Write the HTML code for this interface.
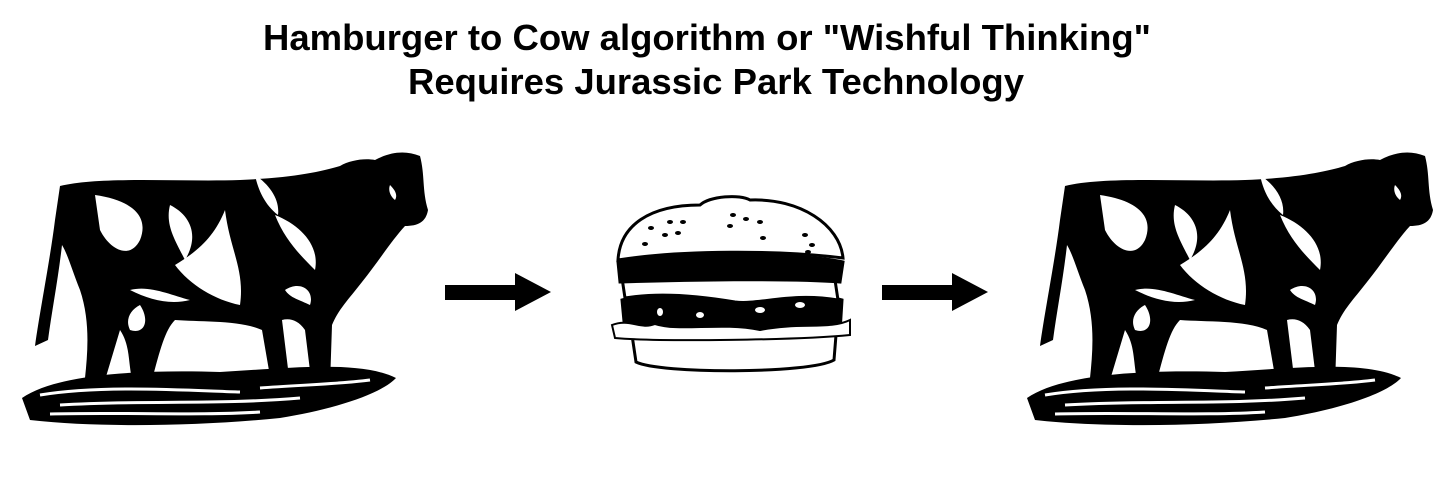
<!DOCTYPE html>
<html><head><style>
html,body{margin:0;padding:0;background:#fff;}
body{width:1447px;height:496px;position:relative;overflow:hidden;}
.t{position:absolute;left:0;width:1420px;text-align:center;font-family:"Liberation Sans",Arial,sans-serif;font-weight:bold;font-size:36.5px;color:#000;}
</style></head><body>
<div class="t" style="top:17px;left:-3px;">Hamburger to Cow algorithm or "Wishful Thinking"</div>
<div class="t" style="top:61px;left:6px;">Requires Jurassic Park Technology</div>
<svg width="1447" height="496" style="position:absolute;left:0;top:0">
<defs>
<g id="cow">
  <path d="M22,398 C60,372 150,370 220,372 C290,368 360,360 396,378 C380,395 330,410 280,418 C200,426 100,428 30,420 Z" fill="#000"/>
  <path d="M60,186 C100,176 180,182 240,180 C290,178 320,172 340,166 C350,160 365,158 375,160 C390,152 405,150 420,156 C425,175 422,190 428,210 C426,222 418,226 405,226 C392,240 378,262 362,282 C348,300 338,310 332,325 L330,385 L312,387 L305,330 C298,320 290,318 282,320 L290,385 L272,388 L262,330 C240,320 200,322 175,320 C165,330 160,350 152,380 L132,380 C128,360 130,345 120,330 L105,380 L85,378 C88,350 90,320 80,290 C72,270 68,255 62,245 C58,280 52,310 48,340 L35,346 C40,310 50,260 55,220 Z" fill="#000"/>
  <path d="M95,195 C130,200 150,215 140,240 C130,260 110,250 100,230 Z M170,205 C190,215 200,235 185,260 C175,240 165,225 170,205 Z M175,265 C200,250 215,235 225,210 C230,250 245,270 240,305 C215,300 190,285 175,265 Z M130,290 C150,285 170,295 190,300 C170,305 150,300 130,290 Z M275,215 C300,225 320,245 315,270 C300,255 285,240 275,215 Z M285,290 C300,280 315,290 310,305 C300,300 290,298 285,290 Z M140,305 C150,320 145,335 130,330 C125,320 130,310 140,305 Z M390,185 C395,190 398,195 395,200 C390,196 388,190 390,185 Z M60,340 C70,330 75,320 80,300 C80,320 75,335 60,340 Z M255,175 C270,185 280,200 278,215 C265,205 258,190 255,175 Z" fill="#fff"/>
  <path d="M40,395 C100,385 180,390 240,392 M60,405 C140,400 220,405 300,398 M50,414 C120,412 200,416 260,412 M260,388 C300,385 340,384 370,380" stroke="#fff" stroke-width="3" fill="none"/>
</g>
<g id="arr"><rect x="0" y="285" width="72" height="15"/><path d="M70,273 L106,292 L70,311 Z"/></g>
</defs>
<use href="#cow"/>
<use href="#cow" transform="translate(1005,0)"/>
<use href="#arr" transform="translate(445,0)"/>
<use href="#arr" transform="translate(882,0)"/>
<g stroke="#000" stroke-width="3">
  <path d="M632,335 L836,335 L834,360 C810,374 660,374 636,362 Z" fill="#fff"/>
  <path d="M622,300 C660,290 800,288 842,300 L840,332 C800,340 660,340 625,332 Z" fill="#000"/>
  <path d="M612,325 C630,318 640,330 655,324 C680,332 720,322 760,330 C800,322 830,330 850,320 L850,335 C800,340 660,342 615,338 Z" fill="#fff" stroke-width="2"/>
  <path d="M622,278 C680,272 790,272 835,280 L838,300 C790,292 760,305 735,302 C700,296 660,292 625,298 Z" fill="#fff"/>
  <path d="M618,262 C660,252 800,252 843,262 L840,282 C790,278 680,280 620,282 Z" fill="#000"/>
  <path d="M618,260 C620,225 650,205 700,205 C710,196 740,194 750,200 C800,198 840,225 843,258 C780,250 680,250 618,260 Z" fill="#fff"/>
</g>
<g fill="#000">
  <ellipse cx="651" cy="228" rx="3" ry="2"/><ellipse cx="670" cy="222" rx="3" ry="2"/><ellipse cx="683" cy="222" rx="3" ry="2"/><ellipse cx="665" cy="235" rx="3" ry="2"/><ellipse cx="678" cy="233" rx="3" ry="2"/><ellipse cx="645" cy="244" rx="3" ry="2"/><ellipse cx="733" cy="215" rx="3" ry="2"/><ellipse cx="746" cy="219" rx="3" ry="2"/><ellipse cx="760" cy="222" rx="3" ry="2"/><ellipse cx="730" cy="226" rx="3" ry="2"/><ellipse cx="763" cy="238" rx="3" ry="2"/><ellipse cx="805" cy="235" rx="3" ry="2"/><ellipse cx="812" cy="245" rx="3" ry="2"/><ellipse cx="808" cy="252" rx="3" ry="2"/>
</g>
<g fill="#fff"><ellipse cx="760" cy="310" rx="5" ry="3"/><ellipse cx="700" cy="315" rx="4" ry="3"/><ellipse cx="800" cy="305" rx="5" ry="3"/><ellipse cx="660" cy="312" rx="3" ry="4"/></g>
</svg>
</body></html>
